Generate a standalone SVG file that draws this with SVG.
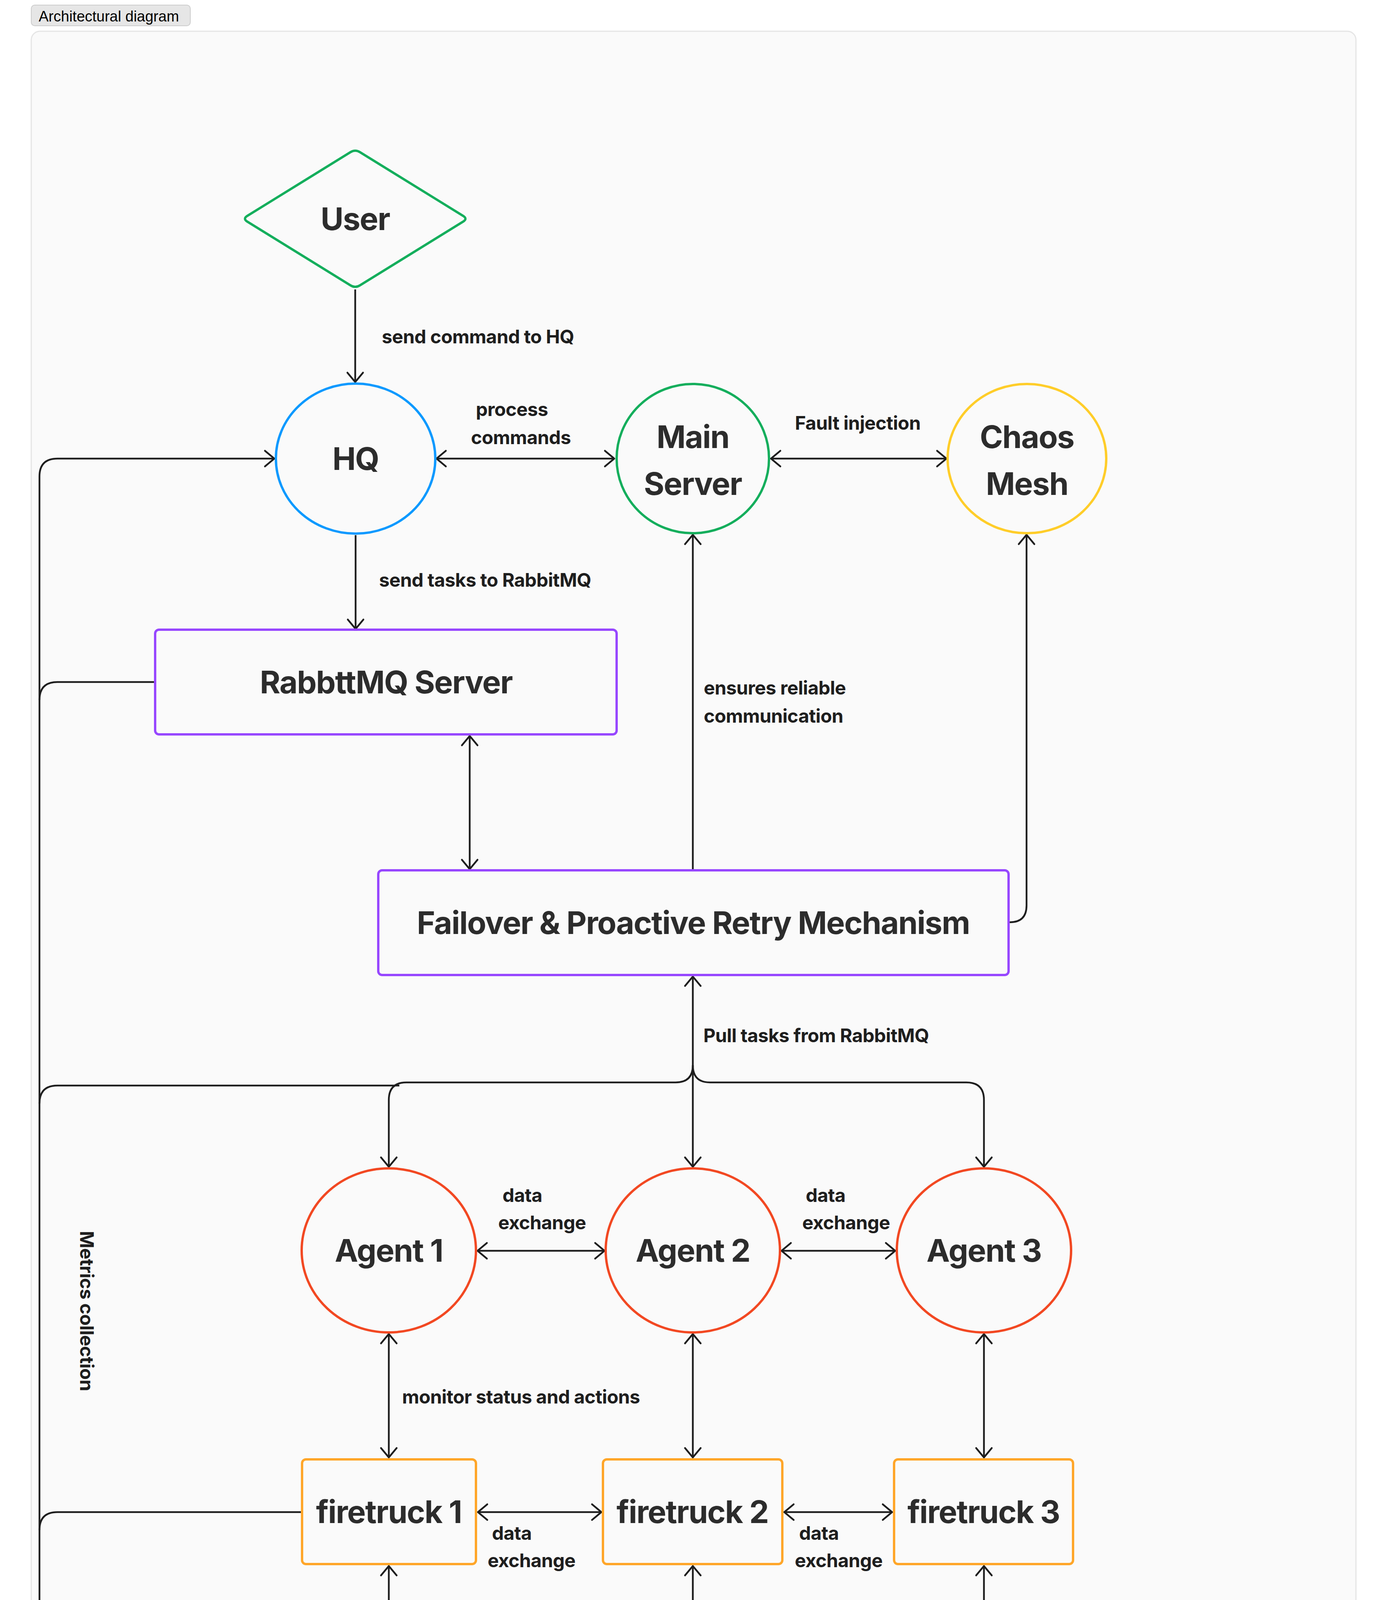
<svg xmlns="http://www.w3.org/2000/svg" width="3552" height="6748" viewBox="0 0 3552 6748">
<style>
.nl{font-family:Inter,"Noto Sans","DejaVu Sans",sans-serif;font-size:80px;font-weight:700;fill:#2c2c2c;text-anchor:middle;letter-spacing:-1.7px}
.dl{font-family:Inter,"Noto Sans","DejaVu Sans",sans-serif;font-size:48px;font-weight:700;fill:#2c2c2c;text-anchor:middle;letter-spacing:-0.8px}
.el{font-family:Inter,"Noto Sans","DejaVu Sans",sans-serif;font-size:48px;font-weight:700;fill:#1e1e1e;letter-spacing:-0.6px}
.c{fill:none;stroke:#1e1e1e;stroke-width:4.5;stroke-linejoin:round}
.a{marker-end:url(#ah)}
.b{marker-start:url(#ah);marker-end:url(#ah)}
.sh{fill:#fafafa;stroke-width:6;stroke-linejoin:round}
.green{stroke:#14ae5c}.blue{stroke:#0d99ff}.purple{stroke:#9747ff}.red{stroke:#f24822}.orange{stroke:#ffa629}.yellow{stroke:#ffcd29}
</style>
<defs>
<marker id="ah" markerUnits="userSpaceOnUse" orient="auto-start-reverse" markerWidth="60" markerHeight="60" viewBox="-30 -30 60 60" refX="0" refY="0" overflow="visible">
<path d="M -24 -20 L 0 0 L -24 20" fill="none" stroke="#1e1e1e" stroke-width="4.5" stroke-linecap="round" stroke-linejoin="round"/>
</marker>
</defs>
<rect x="0" y="0" width="3552" height="6748" fill="#ffffff"/>
<g id="title">
<rect x="80" y="13" width="407" height="53" rx="9" fill="#e6e6e6" stroke="#cccccc" stroke-width="2"/>
<text x="99" y="55" font-family="Liberation Sans, Arial, sans-serif" font-size="38" fill="#000">Architectural diagram</text>
</g>
<rect id="container" x="80" y="80" width="3390" height="6588" rx="22" fill="#fafafa" stroke="#e5e5e5" stroke-width="3"/>

<g id="connectors">
<path class="c a" d="M 909 741 V 978"/>
<path class="c b" d="M 1117 1174 H 1572"/>
<path class="c b" d="M 1973 1174 H 2422"/>
<path class="c a" d="M 1773 2226 V 1369"/>
<path class="c a" d="M 2584 2361 Q 2627 2361 2627 2318 V 1369"/>
<path class="c a" d="M 910 1370 V 1610"/>
<path class="c b" d="M 1202 1884 V 2225"/>
<path class="c a" d="M 101 5142 V 1220 Q 101 1174 147 1174 H 702"/>
<path class="c" d="M 394 1746 H 147 Q 101 1746 101 1792"/>
<path class="c" d="M 1022 2779 H 147 Q 101 2779 101 2825"/>
<path class="c" d="M 771 3871 H 147 Q 101 3871 101 3917"/>
<path class="c a" d="M 101 5100 V 5142 Q 101 5188 147 5188 H 158"/>
<path class="c b" d="M 1773 2500 V 2987"/>
<path class="c a" d="M 1773 2727 Q 1773 2771 1729 2771 H 1040 Q 995 2771 995 2816 V 2987"/>
<path class="c a" d="M 1773 2727 Q 1773 2771 1817 2771 H 2473 Q 2518 2771 2518 2816 V 2987"/>
<path class="c b" d="M 1222 3202 H 1547"/>
<path class="c b" d="M 2000 3202 H 2291"/>
<path class="c b" d="M 995 3415 V 3731"/>
<path class="c b" d="M 1773 3415 V 3731"/>
<path class="c b" d="M 2518 3415 V 3731"/>
<path class="c b" d="M 1223 3871 H 1539"/>
<path class="c b" d="M 2007 3871 H 2283"/>
<path class="c b" d="M 995 4009 V 4468 Q 995 4513 1040 4513 H 1437"/>
<path class="c b" d="M 1773 4009 V 4300"/>
<path class="c b" d="M 2518 4009 V 4468 Q 2518 4513 2473 4513 H 2107"/>
<path class="c a" d="M 794 5188 H 1035"/>
<path class="c a" d="M 1732 5188 H 1917"/>
<path class="c a" d="M 2586 5188 H 2824"/>
<path class="c a" d="M 3119 5432 V 5536 Q 3119 5577 3078 5577 H 2687 Q 2642 5577 2642 5622 V 5721"/>
<path class="c b" d="M 476 5433 V 5744 Q 476 5788 520 5788 H 761"/>
<path class="c b" d="M 1383 5433 V 5607"/>
<path class="c b" d="M 2250 5433 V 5744 Q 2250 5788 2206 5788 H 2006"/>
<path class="c b" d="M 1383 5970 V 6222"/>
</g>

<g id="edge-labels">
<text class="el" x="977" y="879">send command to HQ</text>
<text class="el" x="1310" y="1065" text-anchor="middle">process</text>
<text class="el" x="1333" y="1137" text-anchor="middle">commands</text>
<text class="el" x="2195" y="1100" text-anchor="middle">Fault injection</text>
<text class="el" x="970" y="1502">send tasks to RabbitMQ</text>
<text class="el" x="1801" y="1778">ensures reliable</text>
<text class="el" x="1801" y="1850">communication</text>
<text class="el" x="1800" y="2668">Pull tasks from RabbitMQ</text>
<text class="el" x="222" y="3356" text-anchor="middle" transform="rotate(90 222 3356) translate(0 17)">Metrics collection</text>
<text class="el" x="1286" y="3077">data</text>
<text class="el" x="1275" y="3147">exchange</text>
<text class="el" x="2062" y="3077">data</text>
<text class="el" x="2053" y="3147">exchange</text>
<text class="el" x="1029" y="3593">monitor status and actions</text>
<text class="el" x="1259" y="3942">data</text>
<text class="el" x="1248" y="4012">exchange</text>
<text class="el" x="2045" y="3942">data</text>
<text class="el" x="2034" y="4012">exchange</text>
<text class="el" x="1029" y="4321">ensures reliable</text>
<text class="el" x="1029" y="4393">communication</text>
<text class="el" x="947" y="5117" text-anchor="middle">Logging</text>
<text class="el" x="1827" y="5101" text-anchor="middle">Log storage</text>
<text class="el" x="2579" y="5050">Log</text>
<text class="el" x="2579" y="5122">visualization</text>
<text class="el" x="2831" y="5484" text-anchor="middle">Metric visualization</text>
<text class="el" x="1443" y="6116">Manages system scaling</text>
</g>

<g id="user-top">
<path class="sh green" d="M 920.9 389.4 L 1185.1 552.6 Q 1197 560 1185.1 567.4 L 920.9 730.6 Q 909 738 897.1 730.6 L 632.9 567.4 Q 621 560 632.9 552.6 L 897.1 389.4 Q 909 382 920.9 389.4 Z"/>
<text class="nl" x="909" y="589">User</text>
</g>
<g id="hq">
<ellipse class="sh blue" cx="910" cy="1174" rx="204" ry="192"/>
<text class="nl" x="910" y="1203">HQ</text>
</g>
<g id="main-server">
<ellipse class="sh green" cx="1773" cy="1174" rx="195" ry="191"/>
<text class="nl" x="1773" y="1147">Main</text>
<text class="nl" x="1773" y="1267">Server</text>
</g>
<g id="chaos-mesh">
<ellipse class="sh yellow" cx="2628" cy="1174" rx="203" ry="191"/>
<text class="nl" x="2628" y="1147">Chaos</text>
<text class="nl" x="2628" y="1267">Mesh</text>
</g>
<g id="rabbitmq">
<rect class="sh purple" x="397" y="1612" width="1181" height="268" rx="10"/>
<text class="nl" x="988" y="1775">RabbttMQ Server</text>
</g>
<g id="failover">
<rect class="sh purple" x="968" y="2228" width="1613" height="268" rx="10"/>
<text class="nl" x="1774" y="2391">Failover &amp; Proactive Retry Mechanism</text>
</g>
<g id="agent1">
<ellipse class="sh red" cx="995" cy="3201" rx="223" ry="210"/>
<text class="nl" x="995" y="3230">Agent 1</text>
</g>
<g id="agent2">
<ellipse class="sh red" cx="1773" cy="3201" rx="223" ry="210"/>
<text class="nl" x="1773" y="3230">Agent 2</text>
</g>
<g id="agent3">
<ellipse class="sh red" cx="2518" cy="3201" rx="223" ry="210"/>
<text class="nl" x="2518" y="3230">Agent 3</text>
</g>
<g id="firetruck1">
<rect class="sh orange" x="773" y="3736" width="445" height="268" rx="10"/>
<text class="nl" x="995" y="3899">firetruck 1</text>
</g>
<g id="firetruck2">
<rect class="sh orange" x="1543" y="3736" width="459" height="268" rx="10"/>
<text class="nl" x="1772" y="3899">firetruck 2</text>
</g>
<g id="firetruck3">
<rect class="sh orange" x="2288" y="3736" width="458" height="268" rx="10"/>
<text class="nl" x="2517" y="3899">firetruck 3</text>
</g>
<g id="retry">
<path class="sh purple" d="M 1786.5 4312.5 L 2420.5 4712.5 Q 2434 4721 2418 4721 L 1127 4721 Q 1111 4721 1124.5 4712.5 L 1759.5 4312.5 Q 1773 4304 1786.5 4312.5 Z"/>
<text class="nl" x="1773" y="4639">Retry Mechanism</text>
</g>
<g id="fluentd">
<path class="sh blue" d="M 487.1 4955.5 L 779.9 5179.5 Q 791 5188 779.9 5196.5 L 487.1 5420.5 Q 476 5429 464.9 5420.5 L 172.1 5196.5 Q 161 5188 172.1 5179.5 L 464.9 4955.5 Q 476 4947 487.1 4955.5 Z"/>
<text class="dl" x="476" y="5206">FluentD</text>
</g>
<g id="elasticsearch">
<path class="sh blue" d="M 1395.5 4955 L 1717.5 5180 Q 1729 5188 1717.5 5196 L 1395.5 5421 Q 1384 5429 1372.5 5421 L 1050.5 5196 Q 1039 5188 1050.5 5180 L 1372.5 4955 Q 1384 4947 1395.5 4955 Z"/>
<text class="dl" x="1384" y="5206">Elasticsearch</text>
</g>
<g id="kibana">
<path class="sh blue" d="M 2262.3 4955.2 L 2570.7 5179.8 Q 2582 5188 2570.7 5196.2 L 2262.3 5420.8 Q 2251 5429 2239.7 5420.8 L 1931.3 5196.2 Q 1920 5188 1931.3 5179.8 L 2239.7 4955.2 Q 2251 4947 2262.3 4955.2 Z"/>
<text class="dl" x="2251" y="5206">Kibana</text>
</g>
<g id="grafana">
<path class="sh blue" d="M 3129.8 4955.9 L 3400.2 5179.1 Q 3411 5188 3400.2 5196.9 L 3129.8 5420.1 Q 3119 5429 3108.2 5420.1 L 2837.8 5196.9 Q 2827 5188 2837.8 5179.1 L 3108.2 4955.9 Q 3119 4947 3129.8 4955.9 Z"/>
<text class="dl" x="3119" y="5206">Grafana</text>
</g>
<g id="user-bottom">
<path class="sh green" d="M 2653.5 5733.9 L 2887.5 5895.1 Q 2899 5903 2887.5 5910.9 L 2653.5 6072.1 Q 2642 6080 2630.5 6072.1 L 2396.5 5910.9 Q 2385 5903 2396.5 5895.1 L 2630.5 5733.9 Q 2642 5726 2653.5 5733.9 Z"/>
<text class="nl" x="2642" y="5932" font-weight="400">User</text>
</g>
<g id="logging-service">
<rect class="sh purple" x="766" y="5612" width="1235" height="353" rx="10"/>
<text class="nl" x="1383" y="5817">Logging Service</text>
</g>
<g id="scaling">
<rect class="sh green" x="1040" y="6227" width="1211" height="353" rx="10"/>
<text class="nl" x="1645" y="6433">Scaling Orchestrator</text>
</g>
</svg>
